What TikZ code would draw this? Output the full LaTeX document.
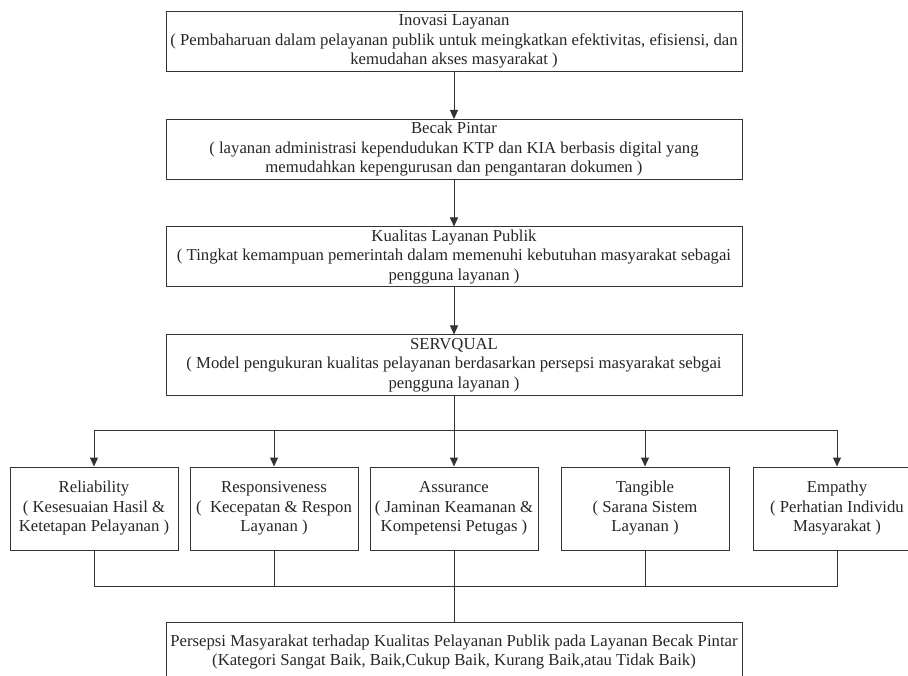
\documentclass[tikz,border=0pt]{standalone}
\usepackage{fontspec}
\setmainfont{Liberation Serif}
\usetikzlibrary{arrows.meta}
\begin{document}
\begin{tikzpicture}[x=1pt,y=-1pt,
    font=\fontsize{16.7}{19.5}\selectfont,
    box/.style={draw=black!80,line width=1pt,align=center,inner sep=0pt,text=black!85},
    mainbox/.style={box,minimum width=576pt,minimum height=60pt},
    dimbox/.style={box,minimum width=168pt,minimum height=83pt},
    arr/.style={draw=black!80,line width=1pt,-{Triangle[width=8pt,length=9pt]}},
    line/.style={draw=black!80,line width=1pt}]
  \useasboundingbox (0,0) rectangle (908,676);
  \draw
    (454,41.5) node[mainbox] (inovasi){Inovasi Layanan\\( Pembaharuan dalam pelayanan publik untuk meingkatkan efektivitas, efisiensi, dan\\kemudahan akses masyarakat )}
    (454,149.5) node[mainbox] (becak){Becak Pintar\\( layanan administrasi kependudukan KTP dan KIA berbasis digital yang\\memudahkan kepengurusan dan pengantaran dokumen )}
    (454,257) node[mainbox] (kualitas){Kualitas Layanan Publik\\( Tingkat kemampuan pemerintah dalam memenuhi kebutuhan masyarakat sebagai\\pengguna layanan )}
    (454,365) node[mainbox] (servqual){SERVQUAL\\( Model pengukuran kualitas pelayanan berdasarkan persepsi masyarakat sebgai\\pengguna layanan )}
    (94,508.5) node[dimbox] (reliability){Reliability\\( Kesesuaian Hasil \&\\Ketetapan Pelayanan )}
    (274,508.5) node[dimbox] (responsiveness){Responsiveness\\(\ \ Kecepatan \& Respon\\Layanan )}
    (454,508.5) node[dimbox] (assurance){Assurance\\( Jaminan Keamanan \&\\Kompetensi Petugas )}
    (645,508.5) node[dimbox] (tangible){Tangible\\( Sarana Sistem\\Layanan )}
    (837,508.5) node[dimbox] (empathy){Empathy\\( Perhatian Individu\\Masyarakat )}
    (454,652) node[mainbox] (persepsi){Persepsi Masyarakat terhadap Kualitas Pelayanan Publik pada Layanan Becak Pintar\\(Kategori Sangat Baik, Baik,Cukup Baik, Kurang Baik,atau Tidak Baik)};
  \coordinate (split) at (454,430);
  \coordinate (join) at (454,586);
  \begin{scope}[arr]
    \draw (inovasi) to (becak);
    \draw (becak) to (kualitas);
    \draw (kualitas) to (servqual);
    \draw (servqual) to (assurance);
    \draw (split) -| (reliability);
    \draw (split) -| (responsiveness);
    \draw (split) -| (tangible);
    \draw (split) -| (empathy);
  \end{scope}
  \begin{scope}[line]
    \draw (reliability) |- (join);
    \draw (responsiveness) |- (join);
    \draw (assurance) to (join);
    \draw (tangible) |- (join);
    \draw (empathy) |- (join);
    \draw (join) to (persepsi);
  \end{scope}
\end{tikzpicture}
\end{document}
